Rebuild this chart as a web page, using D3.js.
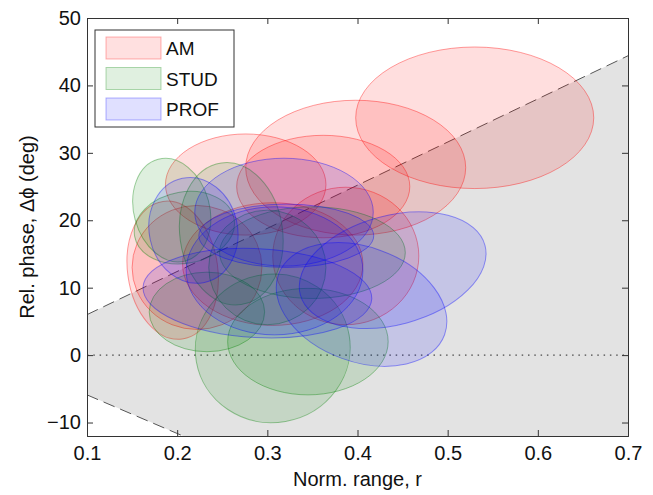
<!DOCTYPE html>
<html>
<head>
<meta charset="utf-8">
<script src="https://cdn.jsdelivr.net/npm/d3@7"></script>
<style>
  body { margin: 0; background: #fff; }
  text { font-family: "Liberation Sans", Arial, sans-serif; }
</style>
</head>
<body>
<div id="chart"></div>
<script>
// group names in legend order
const groups = ["AM", "STUD", "PROF"];

// ellipses per group: [centre r, centre dphi, half-width r, half-height dphi, tilt deg]
const amEllipses = [
    [0.530, 35.2, 0.132, 10.5, 0],
    [0.398, 27.8, 0.122, 10.0, 0],
    [0.276, 25.3, 0.089, 7.5, 0],
    [0.362, 25.0, 0.096, 7.6, 0],
    [0.387, 14.7, 0.081, 10.2, 0],
    [0.195, 12.6, 0.050, 10.3, -8],
    [0.222, 13.0, 0.072, 9.2, 0],
    [0.306, 13.5, 0.100, 9.1, 0]
];
const studEllipses = [
    [0.194, 21.5, 0.042, 7.8, -15],
    [0.260, 18.0, 0.057, 10.6, -8],
    [0.208, 18.9, 0.056, 5.3, -10],
    [0.306, 1.0, 0.086, 11.0, -10],
    [0.345, 2.0, 0.089, 7.9, 0],
    [0.233, 6.4, 0.064, 5.9, 0],
    [0.350, 15.2, 0.103, 6.8, 0],
    [0.300, 13.0, 0.065, 8.5, 0]
];
const profEllipses = [
    [0.3185, 21.2, 0.099, 8.0, 0],
    [0.218, 18.5, 0.049, 7.9, -12],
    [0.321, 17.7, 0.097, 4.7, 0],
    [0.308, 12.5, 0.098, 9.5, 0],
    [0.289, 9.2, 0.127, 6.6, 3],
    [0.439, 12.6, 0.106, 8.1, -15],
    [0.4045, 7.5, 0.098, 8.5, 20]
];

// shaded band limits
const upperEdge = [[0.1, 6.0], [0.7, 44.4]];
const lowerEdge = [[0.1, -5.9], [0.2065, -12]];

const xTicks = [0.1, 0.2, 0.3, 0.4, 0.5, 0.6, 0.7];
const yTicks = [-10, 0, 10, 20, 30, 40, 50];

const colours = { AM: "#ff0000", STUD: "#008000", PROF: "#0000ff" };
const ellipsesByGroup = { AM: amEllipses, STUD: studEllipses, PROF: profEllipses };

const width = 653, height = 495;
const margin = { top: 18, right: 25, bottom: 59, left: 87 };
const fontSize = 20;

const svg = d3.select("#chart").append("svg")
    .attr("width", width)
    .attr("height", height);

const x = d3.scaleLinear().domain([0.1, 0.7]).range([margin.left, width - margin.right]);
const y = d3.scaleLinear().domain([-12, 50]).range([height - margin.bottom, margin.top]);

svg.append("clipPath").attr("id", "plot-clip")
    .append("rect")
    .attr("x", x(0.1)).attr("y", y(50))
    .attr("width", x(0.7) - x(0.1)).attr("height", y(-12) - y(50));

const plot = svg.append("g").attr("clip-path", "url(#plot-clip)");

// grey band between the two dashed limits
const band = [upperEdge[0], upperEdge[1], [0.7, -12], lowerEdge[1], lowerEdge[0]];
plot.append("path")
    .attr("d", d3.line().x(d => x(d[0])).y(d => y(d[1]))(band) + "Z")
    .attr("fill", "#e3e3e3");

[upperEdge, lowerEdge].forEach(edge => {
    plot.append("path")
        .attr("d", d3.line().x(d => x(d[0])).y(d => y(d[1]))(edge))
        .attr("fill", "none")
        .attr("stroke", "#555")
        .attr("stroke-width", 1)
        .attr("stroke-dasharray", "12,6");
});

// zero line
plot.append("line")
    .attr("x1", x(0.1)).attr("x2", x(0.7))
    .attr("y1", y(0)).attr("y2", y(0))
    .attr("stroke", "#222")
    .attr("stroke-width", 1)
    .attr("stroke-dasharray", "1.5,4.8");

groups.forEach(g => {
    plot.append("g").selectAll("ellipse")
        .data(ellipsesByGroup[g])
        .join("ellipse")
        .attr("cx", d => x(d[0]))
        .attr("cy", d => y(d[1]))
        .attr("rx", d => x(d[0] + d[2]) - x(d[0]))
        .attr("ry", d => y(d[1] - d[3]) - y(d[1]))
        .attr("transform", d => `rotate(${d[4]},${x(d[0])},${y(d[1])})`)
        .attr("fill", colours[g])
        .attr("fill-opacity", 0.13)
        .attr("stroke", colours[g])
        .attr("stroke-opacity", 0.38)
        .attr("stroke-width", 1);
});

// axes, ticks inward on all four sides
const tickLen = 6;
const xAxis = svg.append("g")
    .attr("transform", `translate(0,${y(-12)})`)
    .call(d3.axisBottom(x).tickValues(xTicks).tickSize(-tickLen).tickPadding(10).tickFormat(d3.format(".1f")));
const yAxis = svg.append("g")
    .attr("transform", `translate(${x(0.1)},0)`)
    .call(d3.axisLeft(y).tickValues(yTicks).tickSize(-tickLen).tickPadding(6).tickFormat(d3.format("d")));
svg.append("g")
    .attr("transform", `translate(0,${y(50)})`)
    .call(d3.axisTop(x).tickValues(xTicks).tickSize(-tickLen).tickFormat(""));
svg.append("g")
    .attr("transform", `translate(${x(0.7)},0)`)
    .call(d3.axisRight(y).tickValues(yTicks).tickSize(-tickLen).tickFormat(""));

svg.selectAll(".domain").attr("stroke", "#333");
svg.selectAll(".tick line").attr("stroke", "#333");
[xAxis, yAxis].forEach(a => a.selectAll("text")
    .attr("font-size", fontSize)
    .attr("fill", "#111")
    .style("font-family", "'Liberation Sans', Arial, sans-serif"));

svg.append("text")
    .attr("x", (x(0.1) + x(0.7)) / 2)
    .attr("y", 486)
    .attr("text-anchor", "middle")
    .attr("font-size", fontSize)
    .attr("fill", "#111")
    .text("Norm. range, r");

svg.append("text")
    .attr("transform", `translate(34,${(y(-12) + y(50)) / 2}) rotate(-90)`)
    .attr("text-anchor", "middle")
    .attr("font-size", fontSize)
    .attr("fill", "#111")
    .text("Rel. phase, Δϕ (deg)");

// legend
const legend = svg.append("g").attr("transform", "translate(95,30)");
legend.append("rect")
    .attr("width", 139).attr("height", 97)
    .attr("fill", "#fff")
    .attr("stroke", "#333")
    .attr("stroke-width", 1);
groups.forEach((g, i) => {
    legend.append("rect")
        .attr("x", 11).attr("y", 7 + i * 30.5)
        .attr("width", 55).attr("height", 22)
        .attr("fill", colours[g]).attr("fill-opacity", 0.12)
        .attr("stroke", colours[g]).attr("stroke-opacity", 0.3);
    legend.append("text")
        .attr("x", 71).attr("y", 25 + i * 30.5)
        .attr("font-size", 19)
        .attr("fill", "#111")
        .text(g);
});
</script>
</body>
</html>
